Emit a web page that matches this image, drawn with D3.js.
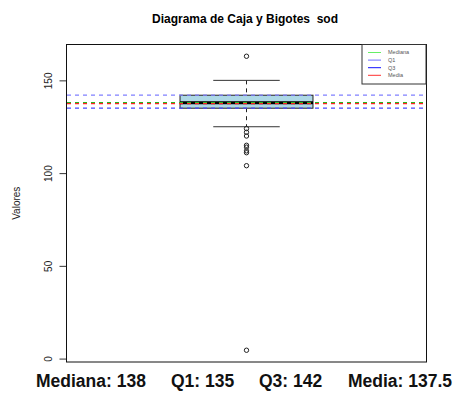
<!DOCTYPE html>
<html>
<head>
<meta charset="utf-8">
<script src="https://cdn.jsdelivr.net/npm/d3@7"></script>
<style>
  body { margin: 0; background: #fff; }
  text { font-family: "Liberation Sans", Arial, sans-serif; }
</style>
</head>
<body>
<div id="viz"></div>
<script>
// boxplot stats for sod
const Q1 = 135, MEDIANA = 138, Q3 = 142, MEDIA = 137.5;
const WHISKER_LOW = 125, WHISKER_HIGH = 150;
const outliers = [163, 124, 122, 120, 115, 114, 112, 111, 104, 4.5];
const yTicks = [0, 50, 100, 150];
const refLines = [
  { name: 'Q3', value: Q3, color: '#8080ff' },
  { name: 'Mediana', value: MEDIANA, color: '#22bb22' },
  { name: 'Media', value: MEDIA, color: '#ff2020' },
  { name: 'Q1', value: Q1, color: '#4a4aff' }
];
const legendItems = [
  { label: 'Mediana', color: '#66ee66' },
  { label: 'Q1', color: '#7070ff' },
  { label: 'Q3', color: '#1010ff' },
  { label: 'Media', color: '#ff3030' }
];
const footer = [
  { text: 'Mediana: 138', x: 36 },
  { text: 'Q1: 135', x: 171 },
  { text: 'Q3: 142', x: 259 },
  { text: 'Media: 137.5', x: 348 }
];

const W = 467, H = 394;
const plot = { left: 67, right: 426, top: 44.5, bottom: 362 };

const svg = d3.select('#viz').append('svg')
  .attr('width', W)
  .attr('height', H);

const allVals = outliers.concat([WHISKER_LOW, WHISKER_HIGH]);
const lo = d3.min(allVals), hi = d3.max(allVals);
const pad = (hi - lo) * 0.04;

const y = d3.scaleLinear()
  .domain([lo - pad, hi + pad])
  .range([plot.bottom, plot.top]);

const x = d3.scaleLinear()
  .domain([0.46, 1.54])
  .range([plot.left, plot.right]);

// title
svg.append('text')
  .attr('x', 245)
  .attr('y', 23)
  .attr('text-anchor', 'middle')
  .attr('font-size', 12)
  .attr('font-weight', 'bold')
  .style('white-space', 'pre')
  .text('Diagrama de Caja y Bigotes  sod');

// y axis
const yAxis = svg.append('g')
  .attr('transform', 'translate(' + (plot.left - 0.5) + ',0)')
  .call(d3.axisLeft(y).tickValues(yTicks).tickSize(7).tickPadding(4));
yAxis.select('.domain').remove();
yAxis.selectAll('line').attr('stroke', '#333');
yAxis.selectAll('text')
  .attr('font-family', '"Liberation Sans", Arial, sans-serif')
  .attr('font-size', 10)
  .attr('fill', '#222')
  .attr('x', -18)
  .attr('y', 0)
  .attr('dy', '0.35em')
  .attr('text-anchor', 'middle')
  .attr('transform', 'rotate(-90,-18,0)');

svg.append('text')
  .attr('transform', 'translate(20,' + ((plot.top + plot.bottom) / 2) + ') rotate(-90)')
  .attr('text-anchor', 'middle')
  .attr('font-size', 10)
  .attr('fill', '#222')
  .text('Valores');

const g = svg.append('g');

// whiskers
g.append('line')
  .attr('x1', x(1)).attr('x2', x(1))
  .attr('y1', y(WHISKER_HIGH)).attr('y2', y(Q3))
  .attr('stroke', '#222').attr('stroke-dasharray', '4,4');
g.append('line')
  .attr('x1', x(1)).attr('x2', x(1))
  .attr('y1', y(Q1)).attr('y2', y(WHISKER_LOW))
  .attr('stroke', '#222').attr('stroke-dasharray', '4,4');
[WHISKER_LOW, WHISKER_HIGH].forEach(function(v) {
  g.append('line')
    .attr('x1', x(0.9)).attr('x2', x(1.1))
    .attr('y1', y(v)).attr('y2', y(v))
    .attr('stroke', '#333');
});

// box
g.append('rect')
  .attr('x', x(0.8))
  .attr('y', y(Q3))
  .attr('width', x(1.2) - x(0.8))
  .attr('height', y(Q1) - y(Q3))
  .attr('fill', '#add8e6')
  .attr('stroke', '#222');
g.append('line')
  .attr('x1', x(0.8)).attr('x2', x(1.2))
  .attr('y1', y(MEDIANA)).attr('y2', y(MEDIANA))
  .attr('stroke', '#000').attr('stroke-width', 3);

// outliers
g.selectAll('.out')
  .data(outliers)
  .enter()
  .append('circle')
  .attr('class', 'out')
  .attr('cx', x(1))
  .attr('cy', function(d) { return y(d); })
  .attr('r', 2.2)
  .attr('fill', 'none')
  .attr('stroke', '#222');

// reference lines
g.selectAll('.ref')
  .data(refLines)
  .enter()
  .append('line')
  .attr('class', 'ref')
  .attr('x1', plot.left).attr('x2', plot.right)
  .attr('y1', function(d) { return y(d.value); })
  .attr('y2', function(d) { return y(d.value); })
  .attr('stroke', function(d) { return d.color; })
  .attr('stroke-width', 1.2)
  .attr('stroke-dasharray', '4,4');

// plot frame
svg.append('rect')
  .attr('x', plot.left - 0.5)
  .attr('y', plot.top)
  .attr('width', plot.right - plot.left + 1)
  .attr('height', plot.bottom - plot.top)
  .attr('fill', 'none')
  .attr('stroke', '#111');

// legend
const lg = svg.append('g')
  .attr('transform', 'translate(362,' + plot.top + ')');
lg.append('rect')
  .attr('width', plot.right - 362)
  .attr('height', 39.5)
  .attr('fill', '#fff')
  .attr('stroke', '#333');
const row = lg.selectAll('.row')
  .data(legendItems)
  .enter()
  .append('g')
  .attr('class', 'row')
  .attr('transform', function(d, i) { return 'translate(0,' + (8 + i * 7.6) + ')'; });
row.append('line')
  .attr('x1', 6).attr('x2', 19)
  .attr('stroke', function(d) { return d.color; })
  .attr('stroke-width', 1);
row.append('text')
  .attr('x', 26)
  .attr('dy', '0.35em')
  .attr('font-size', 5.5)
  .attr('fill', '#555')
  .text(function(d) { return d.label; });

// footer stats
svg.selectAll('.foot')
  .data(footer)
  .enter()
  .append('text')
  .attr('class', 'foot')
  .attr('x', function(d) { return d.x; })
  .attr('y', 387)
  .attr('font-size', 17.5)
  .attr('font-weight', 'bold')
  .attr('fill', '#111')
  .text(function(d) { return d.text; });
</script>
</body>
</html>
